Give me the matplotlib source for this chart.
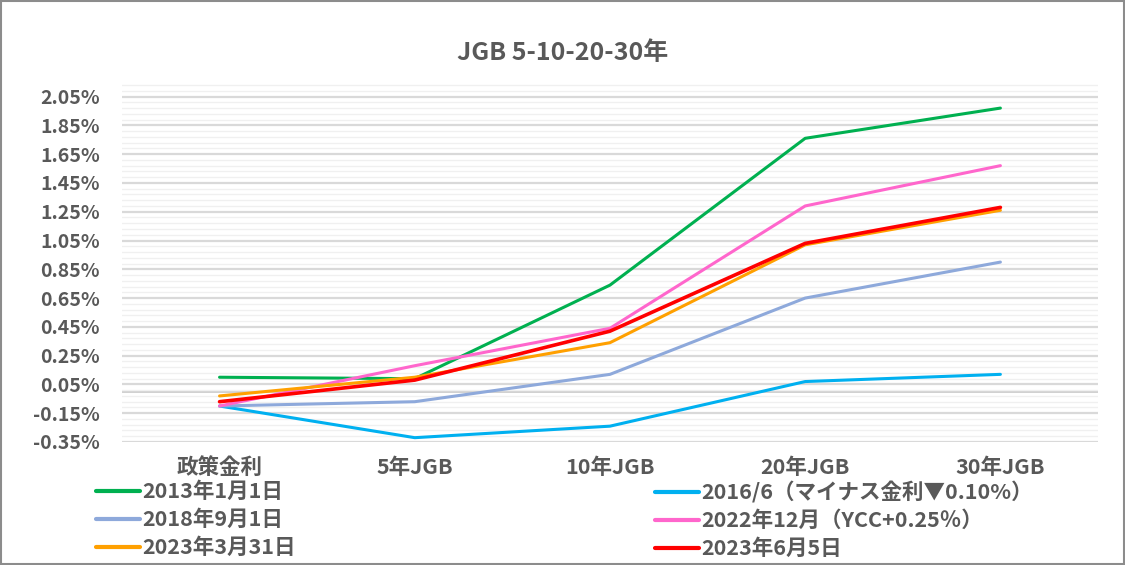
import matplotlib
matplotlib.use("Agg")
import matplotlib.pyplot as plt
from matplotlib.patches import Rectangle
import numpy as np

plt.rcParams['font.family'] = ['Noto Sans CJK JP', 'DejaVu Sans']

categories = ['政策金利', '5年JGB', '10年JGB', '20年JGB', '30年JGB']

# yields in %
y_2013_01 = [0.10, 0.09, 0.74, 1.76, 1.97]
y_2016_06 = [-0.10, -0.32, -0.24, 0.07, 0.12]
y_2018_09 = [-0.10, -0.07, 0.12, 0.65, 0.90]
y_2022_12 = [-0.10, 0.18, 0.44, 1.29, 1.57]
y_2023_03 = [-0.03, 0.10, 0.34, 1.02, 1.26]
y_2023_06 = [-0.07, 0.08, 0.42, 1.03, 1.28]

labels = ['2013年1月1日', '2016/6（マイナス金利▼0.10%）', '2018年9月1日',
          '2022年12月（YCC+0.25％）', '2023年3月31日', '2023年6月5日']
colors = ['#00B050', '#00B0F0', '#8EA9DB', '#FF66CC', '#FFA000', '#FF0000']
widths = [2.2, 2.2, 2.2, 2.2, 2.2, 2.6]
series = [y_2013_01, y_2016_06, y_2018_09, y_2022_12, y_2023_03, y_2023_06]

text_col = '#595959'

fig = plt.figure(figsize=(11.25, 5.65), dpi=100)
ax = fig.add_axes([0.1084, 0.2177, 0.8676, 0.6343])

x = np.arange(len(categories))
lines = []
for vals, lab, col, lw in zip(series, labels, colors, widths):
    ln, = ax.plot(x, vals, color=col, lw=lw, label=lab, solid_capstyle='round', zorder=3)
    lines.append(ln)

ax.set_xlim(-0.5, len(categories) - 0.5)
ax.set_ylim(-0.35, 2.14)

major = np.arange(-0.35, 2.06, 0.2)
minor = np.arange(-0.35, 2.14, 0.04)
ax.set_yticks(major)
ax.set_yticklabels(['{:.2f}%'.format(v) for v in major])
ax.set_yticks(minor, minor=True)
ax.set_xticks(x)
ax.set_xticklabels(categories)

ax.grid(which='major', axis='y', color='#D9D9D9', lw=1.6, zorder=0)
ax.grid(which='minor', axis='y', color='#F0F0F0', lw=1.0, zorder=0)
ax.axhline(0, color='#D0D0D0', lw=1.4, zorder=1)
for s in ax.spines.values():
    s.set_visible(False)

ax.tick_params(axis='both', which='both', length=0)
ax.tick_params(axis='y', pad=16, labelsize=14, labelcolor=text_col)
ax.tick_params(axis='x', pad=11, labelsize=15.5, labelcolor=text_col)
for t in ax.get_yticklabels() + ax.get_xticklabels():
    t.set_fontweight('bold')

fig.text(0.5, 0.907, 'JGB 5-10-20-30年', ha='center', va='center',
         fontsize=18, color=text_col, fontweight='bold')

leg_kw = dict(frameon=False, fontsize=15.5, handlelength=2.05, handletextpad=0.1,
              labelspacing=0.32, borderpad=0, borderaxespad=0, loc='upper left')
leg1 = fig.legend([lines[0], lines[2], lines[4]], [labels[0], labels[2], labels[4]],
                  bbox_to_anchor=(0.0853, 0.148), **leg_kw)
leg2 = fig.legend([lines[1], lines[3], lines[5]], [labels[1], labels[3], labels[5]],
                  bbox_to_anchor=(0.582, 0.148), **leg_kw)
for leg in (leg1, leg2):
    for t in leg.get_texts():
        t.set_color(text_col)
        t.set_fontweight('bold')
    for h in leg.get_lines():
        h.set_linewidth(3)

fig.patches.append(Rectangle((0.001, 0.002), 0.998, 0.996, transform=fig.transFigure,
                             fill=False, edgecolor='#8C8C8C', lw=1.5))

fig.savefig('out.png', dpi=100)
